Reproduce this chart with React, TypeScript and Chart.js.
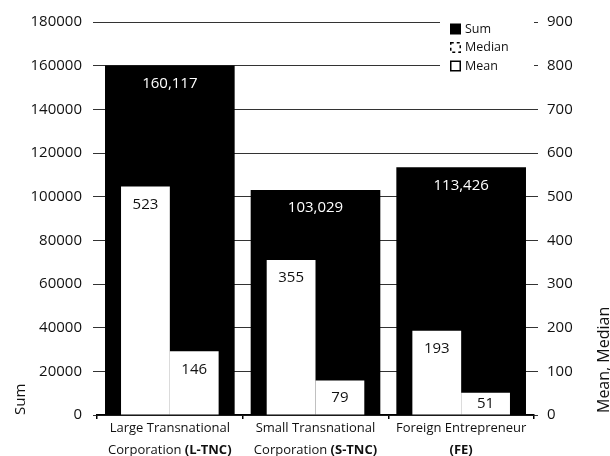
import React, { useEffect, useRef } from "react";
import { Chart, registerables } from "chart.js";

Chart.register(...registerables);

// ---- data ----
const categories = [
  "Large Transnational Corporation (L-TNC)",
  "Small Transnational Corporation (S-TNC)",
  "Foreign Entrepreneur (FE)",
];
const categoryLine1 = ["Large Transnational", "Small Transnational", "Foreign Entrepreneur"];
const categoryLine2 = ["Corporation ", "Corporation ", ""];
const categoryAbbr = ["(L-TNC)", "(S-TNC)", "(FE)"];

const sumValues = [160117, 103029, 113426];
const medianValues = [146, 79, 51];
const meanValues = [523, 355, 193];

const sumAxisMax = 180000;
const sumAxisStep = 20000;
const meanAxisMax = 900;
const meanAxisStep = 100;

const seriesLabels = ["Sum", "Median", "Mean"];
const leftTitle = "Sum";
const rightTitle = "Mean, Median";

const FONT = "'Open Sans', 'Noto Sans', sans-serif";
const TEXT = "#111";

// ---- plugins ----
const valueLabelPlugin = {
  id: "valueLabels",
  afterDatasetsDraw(chart: any) {
    const ctx = chart.ctx;
    ctx.save();
    ctx.font = `15px ${FONT}`;
    ctx.textAlign = "center";
    ctx.textBaseline = "middle";
    chart.data.datasets.forEach((ds: any, di: number) => {
      const meta = chart.getDatasetMeta(di);
      meta.data.forEach((el: any, i: number) => {
        const { x, y, base } = el.getProps(["x", "y", "base"], true);
        const h = base - y;
        const off = Math.min(18, h / 2);
        const v = ds.data[i];
        const txt = ds.label === "Sum" ? v.toLocaleString("en-US") : String(v);
        ctx.fillStyle = ds.label === "Sum" ? "#fff" : TEXT;
        ctx.fillText(txt, x, y + off);
      });
    });
    ctx.restore();
  },
};

const xLabelPlugin = {
  id: "xLabels",
  afterDraw(chart: any) {
    const ctx = chart.ctx;
    const xs = chart.scales.x;
    const bottom = chart.chartArea.bottom;
    ctx.save();
    ctx.fillStyle = TEXT;
    ctx.textBaseline = "middle";
    categoryLine1.forEach((l1, i) => {
      const cx = xs.getPixelForValue(i);
      ctx.font = `13px ${FONT}`;
      ctx.textAlign = "center";
      ctx.fillText(l1, cx, bottom + 13);
      const reg = categoryLine2[i];
      const bold = categoryAbbr[i];
      ctx.font = `13px ${FONT}`;
      const wr = ctx.measureText(reg).width;
      ctx.font = `bold 13px ${FONT}`;
      const wb = ctx.measureText(bold).width;
      const start = cx - (wr + wb) / 2;
      ctx.textAlign = "left";
      ctx.font = `13px ${FONT}`;
      ctx.fillText(reg, start, bottom + 35);
      ctx.font = `bold 13px ${FONT}`;
      ctx.fillText(bold, start + wr, bottom + 35);
    });
    ctx.restore();
  },
};

const legendPlugin = {
  id: "customLegend",
  afterDraw(chart: any) {
    const ctx = chart.ctx;
    const { right, top } = chart.chartArea;
    ctx.save();
    ctx.fillStyle = "#fff";
    ctx.fillRect(right - 94, top - 8, 94, 66);
    ctx.font = `12.5px ${FONT}`;
    ctx.textBaseline = "middle";
    ctx.textAlign = "left";
    chart.data.datasets.forEach((ds: any, i: number) => {
      const cy = top + 7 + i * 18.5;
      const bx = right - 84;
      const by = cy - 5.5;
      if (ds.label === "Sum") {
        ctx.fillStyle = "#000";
        ctx.fillRect(bx, by, 11, 11);
      } else {
        ctx.fillStyle = "#fff";
        ctx.fillRect(bx, by, 11, 11);
        ctx.strokeStyle = "#000";
        ctx.lineWidth = 1.5;
        ctx.setLineDash(ds.label === "Median" ? [3, 3] : []);
        ctx.strokeRect(bx + 0.75, by + 0.75, 9.5, 9.5);
        ctx.setLineDash([]);
      }
      ctx.fillStyle = TEXT;
      ctx.fillText(ds.label, bx + 15, cy);
    });
    ctx.restore();
  },
};

const rightTitlePlugin = {
  id: "rightTitle",
  afterDraw(chart: any) {
    const ctx = chart.ctx;
    const { bottom } = chart.chartArea;
    const ys = chart.scales.y1;
    ctx.save();
    ctx.translate(ys.right - 6, bottom - 2);
    ctx.rotate(-Math.PI / 2);
    ctx.font = `16px ${FONT}`;
    ctx.fillStyle = TEXT;
    ctx.textAlign = "left";
    ctx.textBaseline = "middle";
    ctx.fillText(rightTitle, 0, 0);
    ctx.restore();
  },
};

const plainTick = (v: any) => String(v);

export default function App() {
  const ref = useRef<HTMLCanvasElement | null>(null);

  useEffect(() => {
    if (!ref.current) return;
    const chart = new Chart(ref.current, {
      type: "bar",
      data: {
        labels: categories,
        datasets: [
          {
            label: seriesLabels[0],
            data: sumValues,
            backgroundColor: "#000",
            borderWidth: 0,
            xAxisID: "x",
            yAxisID: "y",
            order: 2,
            grouped: false,
            barPercentage: 0.89,
            categoryPercentage: 1,
          },
          {
            label: seriesLabels[1],
            data: medianValues,
            backgroundColor: "#fff",
            borderWidth: 0,
            xAxisID: "x",
            yAxisID: "y1",
            order: 1,
            barPercentage: 1,
            categoryPercentage: 0.67,
          },
          {
            label: seriesLabels[2],
            data: meanValues,
            backgroundColor: "#fff",
            borderWidth: 0,
            xAxisID: "x",
            yAxisID: "y1",
            order: 0,
            barPercentage: 1,
            categoryPercentage: 0.67,
          },
        ],
      },
      options: {
        animation: false,
        responsive: false,
        devicePixelRatio: 1,
        layout: { padding: { top: 22, right: 0, bottom: 0, left: 0 } },
        plugins: {
          legend: { display: false },
          tooltip: { enabled: false },
        },
        scales: {
          x: {
            type: "category",
            offset: true,
            grid: {
              offset: true,
              drawOnChartArea: false,
              drawTicks: true,
              tickLength: 4,
              color: "#000",
              lineWidth: 1.5,
            },
            border: { display: true, color: "#000", width: 1.5 },
            ticks: { display: false },
            afterFit: (s: any) => {
              s.height = 41;
            },
          },
          y: {
            position: "left",
            min: 0,
            max: sumAxisMax,
            ticks: {
              stepSize: sumAxisStep,
              padding: 11,
              color: TEXT,
              font: { family: FONT, size: 15 },
              callback: plainTick,
            },
            grid: { color: "#333", lineWidth: 1, drawTicks: true, tickLength: 4 },
            border: { display: false },
            title: {
              display: true,
              text: leftTitle,
              align: "start",
              color: TEXT,
              padding: { top: 12, bottom: 0 },
              font: { family: FONT, size: 15 },
            },
            afterFit: (s: any) => {
              s.width = 97;
            },
          },
          y1: {
            position: "right",
            min: 0,
            max: meanAxisMax,
            ticks: {
              stepSize: meanAxisStep,
              padding: 9,
              color: TEXT,
              font: { family: FONT, size: 15 },
              callback: plainTick,
            },
            grid: { drawOnChartArea: false, drawTicks: true, tickLength: 4, color: "#333" },
            border: { display: false },
            afterFit: (s: any) => {
              s.width = 76;
            },
          },
        },
      } as any,
      plugins: [valueLabelPlugin, legendPlugin, xLabelPlugin, rightTitlePlugin],
    });
    return () => chart.destroy();
  }, []);

  return (
    <div style={{ position: "absolute", left: 0, top: 0, width: 610, height: 456, background: "#fff" }}>
      <canvas ref={ref} width={610} height={456} style={{ display: "block" }} />
    </div>
  );
}
